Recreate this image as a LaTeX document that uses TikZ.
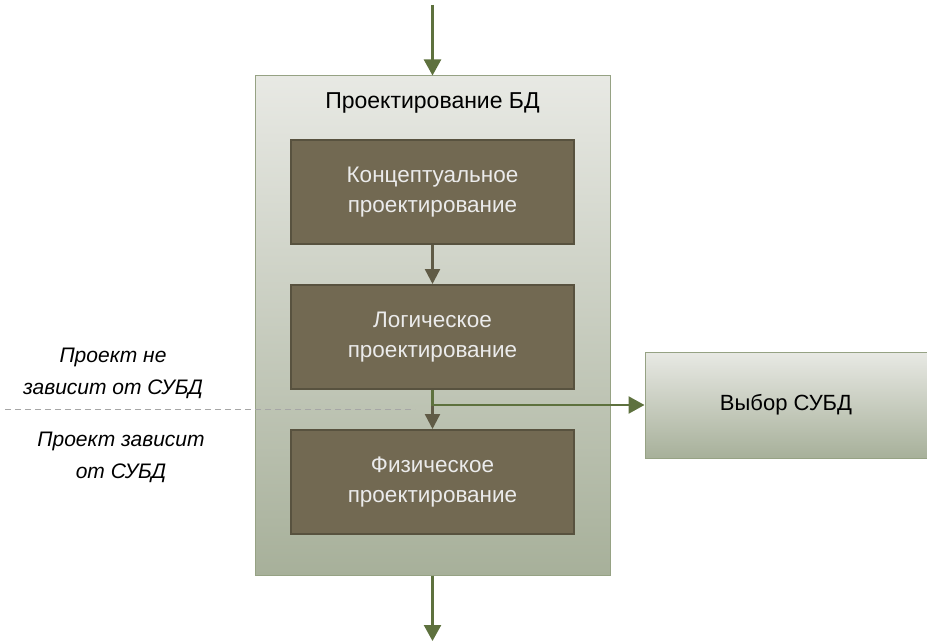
\documentclass[tikz,border=0pt]{standalone}
\usepackage{fontspec}
\setmainfont{Liberation Sans}
\usetikzlibrary{arrows.meta}
\usetikzlibrary{positioning}

\definecolor{flowgreen}{RGB}{94,113,62}
\definecolor{flowbrown}{RGB}{96,91,70}
\definecolor{stagefill}{RGB}{114,105,82}
\definecolor{stageedge}{RGB}{88,82,63}
\definecolor{paneltop}{RGB}{232,233,228}
\definecolor{panelbottom}{RGB}{167,176,154}
\definecolor{paneledge}{RGB}{150,162,132}

\begin{document}
\begin{tikzpicture}[x=1pt,y=-1pt,
    panel/.style={draw=paneledge, line width=1pt, top color=paneltop, bottom color=panelbottom},
    stage/.style={draw=stageedge, line width=2pt, fill=stagefill, text=white!92!black,
      minimum width=283pt, minimum height=104pt, align=center, font=\fontsize{22.5}{30}\selectfont},
    note/.style={align=center, font=\itshape\fontsize{21}{32}\selectfont},
    flow/.style={draw=flowgreen, line width=2.4pt, -{Triangle[width=17pt,length=16pt]}},
    inner/.style={draw=flowbrown, line width=2.4pt, -{Triangle[width=15pt,length=15pt]}},
    sepline/.style={draw=black!35, line width=0.8pt, dash pattern=on 6pt off 4pt}]
  \useasboundingbox (0,0) rectangle (927,642);

  % outer block
  \node[panel, minimum width=355pt, minimum height=499pt] (bd) at (432.5,325.5) {};
  \node[font=\fontsize{23}{26}\selectfont] (bdtitle) at (432.5,103) {Проектирование БД};

  % boundary between the two kinds of design
  \coordinate (sepL) at (5,409);
  \coordinate (sepR) at (415,409);
  \draw[sepline] (sepL) -- (sepR);
  \node[note] (indep) at (113,373) {Проект не\\зависит от СУБД};
  \node[note] (dep) at (121,457) {Проект зависит\\от СУБД};

  % stages
  \node[stage] (concept) at (432.5,192) {Концептуальное\\проектирование};
  \node[stage, below=39pt of concept] (logic) {Логическое\\проектирование};
  \node[stage, below=39pt of logic] (phys) {Физическое\\проектирование};

  % choice of the DBMS
  \node[panel, minimum width=282pt, minimum height=106pt, font=\fontsize{22}{26}\selectfont] (dbms) at (786,405) {Выбор СУБД};

  % connectors
  \coordinate (in) at (432.5,5);
  \coordinate (out) at (432.5,641);
  \draw[flow] (in) -- (bd.north);
  \draw[flow] (bd.south) -- (out);
  \draw[inner] (concept) -- (logic);
  \draw[inner] (logic) -- (phys);
  \draw[flow] (logic.south) |- (dbms.west);
\end{tikzpicture}
\end{document}
